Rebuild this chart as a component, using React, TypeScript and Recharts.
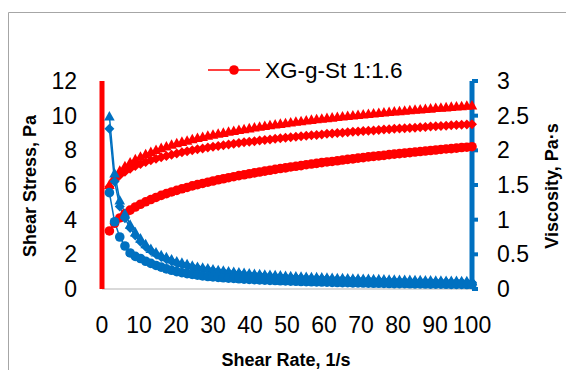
import React from 'react';
import { ComposedChart, Line, XAxis, YAxis } from 'recharts';

const RED = '#FF0000';
const BLUE = '#0070C0';
const FONT = '"Liberation Sans", Arial, sans-serif';

if (typeof document !== 'undefined') {
  document.documentElement.style.overflow = 'hidden';
  document.body.style.overflow = 'hidden';
  document.body.style.margin = '0';
}

// shear rate, 1/s
const shearRate = [
  2, 3.4, 4.8, 6.2, 7.6, 9, 10.4, 11.8, 13.2, 14.6,
  16, 17.4, 18.8, 20.2, 21.6, 23, 24.4, 25.8, 27.2, 28.6,
  30, 31.4, 32.8, 34.2, 35.6, 37, 38.4, 39.8, 41.2, 42.6,
  44, 45.4, 46.8, 48.2, 49.6, 51, 52.4, 53.8, 55.2, 56.6,
  58, 59.4, 60.8, 62.2, 63.6, 65, 66.4, 67.8, 69.2, 70.6,
  72, 73.4, 74.8, 76.2, 77.6, 79, 80.4, 81.8, 83.2, 84.6,
  86, 87.4, 88.8, 90.2, 91.6, 93, 94.4, 95.8, 97.2, 98.6,
  100,
];

// shear stress, Pa (left axis)
const stressCircle = [
  3.35, 3.79, 4.10, 4.34, 4.55, 4.73, 4.89, 5.03, 5.16, 5.28,
  5.40, 5.50, 5.60, 5.69, 5.78, 5.86, 5.95, 6.02, 6.09, 6.16,
  6.23, 6.30, 6.36, 6.42, 6.48, 6.54, 6.59, 6.65, 6.70, 6.75,
  6.80, 6.85, 6.90, 6.95, 6.99, 7.04, 7.08, 7.12, 7.17, 7.21,
  7.25, 7.29, 7.33, 7.36, 7.40, 7.44, 7.48, 7.51, 7.55, 7.58,
  7.62, 7.65, 7.68, 7.71, 7.75, 7.78, 7.81, 7.84, 7.87, 7.90,
  7.93, 7.96, 7.99, 8.02, 8.05, 8.08, 8.10, 8.13, 8.16, 8.18,
  8.21,
];
const stressDiamond = [
  5.90, 6.29, 6.56, 6.77, 6.94, 7.09, 7.21, 7.32, 7.43, 7.52,
  7.60, 7.68, 7.75, 7.82, 7.89, 7.95, 8.00, 8.06, 8.11, 8.16,
  8.21, 8.25, 8.30, 8.34, 8.38, 8.42, 8.46, 8.50, 8.53, 8.57,
  8.60, 8.63, 8.67, 8.70, 8.73, 8.76, 8.79, 8.81, 8.84, 8.87,
  8.89, 8.92, 8.95, 8.97, 9.00, 9.02, 9.04, 9.07, 9.09, 9.11,
  9.13, 9.15, 9.18, 9.20, 9.22, 9.24, 9.26, 9.28, 9.29, 9.31,
  9.33, 9.35, 9.37, 9.39, 9.40, 9.42, 9.44, 9.46, 9.47, 9.49,
  9.51,
];
const stressTriangle = [
  6.02, 6.50, 6.84, 7.09, 7.31, 7.49, 7.64, 7.79, 7.91, 8.03,
  8.14, 8.23, 8.33, 8.42, 8.50, 8.57, 8.65, 8.72, 8.78, 8.85,
  8.91, 8.97, 9.02, 9.08, 9.13, 9.18, 9.23, 9.28, 9.33, 9.37,
  9.42, 9.46, 9.50, 9.54, 9.58, 9.62, 9.66, 9.69, 9.73, 9.77,
  9.80, 9.83, 9.87, 9.90, 9.93, 9.96, 9.99, 10.02, 10.05, 10.08,
  10.11, 10.14, 10.17, 10.19, 10.22, 10.25, 10.27, 10.30, 10.32, 10.35,
  10.37, 10.40, 10.42, 10.45, 10.47, 10.49, 10.52, 10.54, 10.56, 10.58,
  10.60,
];

// viscosity, Pa·s (right axis)
const viscCircle = [
  1.39, 0.97, 0.75, 0.62, 0.52, 0.47, 0.44, 0.40, 0.37, 0.34,
  0.315, 0.29, 0.27, 0.25, 0.235, 0.222, 0.21, 0.20, 0.19, 0.18,
  0.175, 0.168, 0.162, 0.157, 0.152, 0.147, 0.143, 0.139, 0.135, 0.131,
  0.128, 0.125, 0.122, 0.119, 0.116, 0.113, 0.111, 0.108, 0.106, 0.104,
  0.102, 0.100, 0.098, 0.096, 0.094, 0.092, 0.091, 0.089, 0.088, 0.086,
  0.085, 0.083, 0.082, 0.081, 0.079, 0.078, 0.077, 0.076, 0.075, 0.074,
  0.073, 0.072, 0.071, 0.070, 0.069, 0.068, 0.067, 0.066, 0.066, 0.065,
  0.064,
];
const viscDiamond = [
  2.31, 1.55, 1.19, 1.02, 0.88, 0.77, 0.68, 0.61, 0.55, 0.50,
  0.46, 0.43, 0.40, 0.375, 0.355, 0.335, 0.317, 0.302, 0.288, 0.276,
  0.265, 0.254, 0.244, 0.235, 0.227, 0.219, 0.212, 0.206, 0.200, 0.194,
  0.189, 0.184, 0.179, 0.175, 0.171, 0.167, 0.163, 0.160, 0.156, 0.153,
  0.150, 0.147, 0.144, 0.141, 0.138, 0.136, 0.133, 0.131, 0.129, 0.127,
  0.125, 0.123, 0.121, 0.119, 0.117, 0.115, 0.113, 0.111, 0.110, 0.108,
  0.107, 0.105, 0.104, 0.102, 0.101, 0.100, 0.098, 0.097, 0.096, 0.095,
  0.094,
];
const viscTriangle = [
  2.49, 1.67, 1.28, 1.09, 0.93, 0.82, 0.73, 0.65, 0.58, 0.53,
  0.49, 0.46, 0.43, 0.40, 0.38, 0.36, 0.34, 0.32, 0.31, 0.30,
  0.285, 0.275, 0.265, 0.255, 0.247, 0.240, 0.233, 0.227, 0.221, 0.215,
  0.210, 0.205, 0.200, 0.196, 0.192, 0.188, 0.184, 0.180, 0.177, 0.174,
  0.171, 0.168, 0.165, 0.162, 0.159, 0.157, 0.154, 0.152, 0.150, 0.148,
  0.146, 0.144, 0.142, 0.140, 0.138, 0.136, 0.134, 0.132, 0.131, 0.129,
  0.128, 0.126, 0.125, 0.123, 0.122, 0.120, 0.119, 0.118, 0.116, 0.115,
  0.114,
];

const xTicks = [0, 10, 20, 30, 40, 50, 60, 70, 80, 90, 100];
const leftTicks = [0, 2, 4, 6, 8, 10, 12];
const rightTicks = [0, 0.5, 1, 1.5, 2, 2.5, 3];

const data = shearRate.map((x, i) => ({
  x,
  sC: stressCircle[i],
  sD: stressDiamond[i],
  sT: stressTriangle[i],
  vC: viscCircle[i],
  vD: viscDiamond[i],
  vT: viscTriangle[i],
}));

const circleDot = (color: string) => (p: any) =>
  p.cx == null ? null : <circle key={`c${p.index}`} cx={p.cx} cy={p.cy} r={4.8} fill={color} />;

const diamondDot = (color: string) => (p: any) => {
  if (p.cx == null) return null;
  const s = 5;
  return (
    <path
      key={`d${p.index}`}
      d={`M${p.cx},${p.cy - s}L${p.cx + s},${p.cy}L${p.cx},${p.cy + s}L${p.cx - s},${p.cy}Z`}
      fill={color}
    />
  );
};

const triangleDot = (color: string) => (p: any) => {
  if (p.cx == null) return null;
  const s = 5.3;
  return (
    <path
      key={`t${p.index}`}
      d={`M${p.cx},${p.cy - s}L${p.cx + s},${p.cy + s * 0.8}L${p.cx - s},${p.cy + s * 0.8}Z`}
      fill={color}
    />
  );
};

const tick = { fontSize: 23, fill: '#000', fontFamily: FONT };

export default function App() {
  return (
    <div
      style={{
        position: 'relative',
        width: 566,
        height: 370,
        overflow: 'hidden',
        background: '#fff',
        fontFamily: FONT,
      }}
    >
      <ComposedChart
        width={566}
        height={370}
        data={data}
        margin={{ top: 81, right: 34, bottom: 51, left: 42 }}
        style={{ position: 'absolute', left: 0, top: 0 }}
      >
        <XAxis
          dataKey="x"
          type="number"
          domain={[0, 100]}
          ticks={xTicks}
          interval={0}
          height={30}
          tickSize={0}
          tickMargin={28}
          tick={tick}
          axisLine={{ stroke: '#D9D9D9', strokeWidth: 2 }}
        />
        <YAxis
          yAxisId="L"
          domain={[0, 12]}
          ticks={leftTicks}
          interval={0}
          width={60}
          tickSize={0}
          tickMargin={25}
          tick={tick}
          axisLine={{ stroke: RED, strokeWidth: 5 }}
        />
        <YAxis
          yAxisId="R"
          orientation="right"
          domain={[0, 3]}
          ticks={rightTicks}
          interval={0}
          width={60}
          tickSize={6}
          tickMargin={19}
          tick={tick}
          tickLine={{ stroke: BLUE, strokeWidth: 4 }}
          axisLine={{ stroke: BLUE, strokeWidth: 5 }}
        />
        <Line yAxisId="L" dataKey="sC" stroke={RED} strokeWidth={1.5} dot={circleDot(RED)} activeDot={false} isAnimationActive={false} />
        <Line yAxisId="L" dataKey="sD" stroke={RED} strokeWidth={1.5} dot={diamondDot(RED)} activeDot={false} isAnimationActive={false} />
        <Line yAxisId="L" dataKey="sT" stroke={RED} strokeWidth={1.5} dot={triangleDot(RED)} activeDot={false} isAnimationActive={false} />
        <Line yAxisId="R" dataKey="vT" stroke={BLUE} strokeWidth={1.5} dot={triangleDot(BLUE)} activeDot={false} isAnimationActive={false} />
        <Line yAxisId="R" dataKey="vD" stroke={BLUE} strokeWidth={1.5} dot={diamondDot(BLUE)} activeDot={false} isAnimationActive={false} />
        <Line yAxisId="R" dataKey="vC" stroke={BLUE} strokeWidth={1.5} dot={circleDot(BLUE)} activeDot={false} isAnimationActive={false} />
      </ComposedChart>
      <svg width={566} height={370} style={{ position: 'absolute', left: 0, top: 0, pointerEvents: 'none' }}>
        {/* outer chart border: only its left and top edges fall inside the frame */}
        <polyline points="8.5,370 8.5,12.5 566,12.5" fill="none" stroke="#A6A6A6" strokeWidth={1} />
        {/* legend */}
        <line x1={208} y1={70} x2={260} y2={70} stroke={RED} strokeWidth={1.5} />
        <circle cx={234} cy={70} r={4.8} fill={RED} />
        <text x={265} y={70} dominantBaseline="central" fontSize={22.5} fill="#000" fontFamily={FONT}>
          XG-g-St 1:1.6
        </text>
        {/* axis titles */}
        <text
          transform="translate(30,186) rotate(-90)"
          textAnchor="middle"
          dominantBaseline="central"
          fontSize={18}
          fontWeight="bold"
          fill="#000"
          fontFamily={FONT}
        >
          Shear Stress, Pa
        </text>
        <text
          transform="translate(552,186) rotate(-90)"
          textAnchor="middle"
          dominantBaseline="central"
          fontSize={18}
          fontWeight="bold"
          fill="#000"
          fontFamily={FONT}
        >
          Viscosity, Pa·s
        </text>
        <text x={286} y={360} textAnchor="middle" dominantBaseline="central" fontSize={18} fontWeight="bold" fill="#000" fontFamily={FONT}>
          Shear Rate, 1/s
        </text>
      </svg>
    </div>
  );
}
